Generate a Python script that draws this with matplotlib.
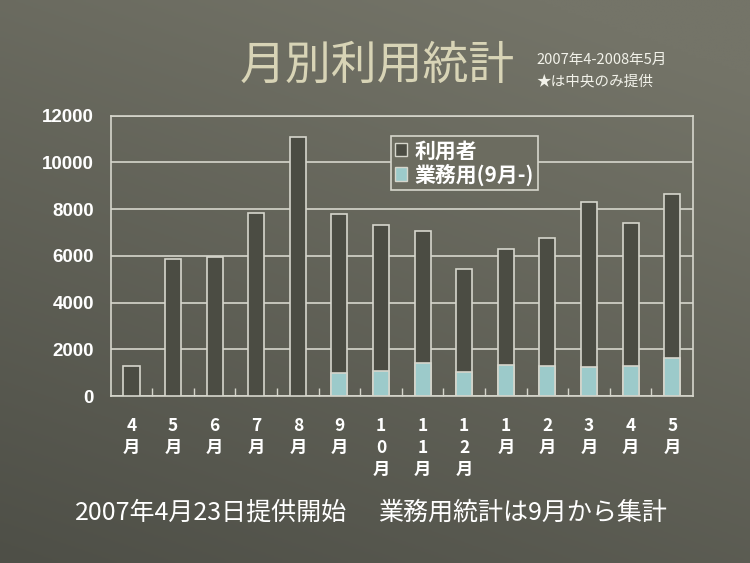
import numpy as np
import matplotlib
matplotlib.use("Agg")
import matplotlib.pyplot as plt
from matplotlib.patches import Patch

MONTH_LABELS = ["4\n月", "5\n月", "6\n月", "7\n月", "8\n月", "9\n月",
                "1\n0\n月", "1\n1\n月", "1\n2\n月",
                "1\n月", "2\n月", "3\n月", "4\n月", "5\n月"]
USERS = [1280, 5870, 5960, 7810, 11060, 7770, 7310, 7080, 5430,
         6300, 6760, 8320, 7420, 8640]
BUSINESS = [None, None, None, None, None, 1000, 1070, 1410, 1040,
            1340, 1300, 1250, 1300, 1610]
Y_TICKS = [0, 2000, 4000, 6000, 8000, 10000, 12000]

BG_TOP = "#747468"
BG_BOTTOM = "#4e4f47"
DARK_BAR = "#4b4c43"
CYAN_BAR = "#9ccaca"
LIGHT = "#d6d6cc"
CJK = ["Noto Sans CJK JP", "DejaVu Sans"]


def main():
    fig = plt.figure(figsize=(7.5, 5.63), dpi=100)

    # background gradient, lighter top right, darker bottom left
    bg = fig.add_axes([0, 0, 1, 1], zorder=-10)
    yy, xx = np.mgrid[0:1:200j, 0:1:200j]
    t = np.clip(0.75 * yy + 0.35 * xx, 0, 1)
    c0 = np.array(matplotlib.colors.to_rgb(BG_BOTTOM))
    c1 = np.array(matplotlib.colors.to_rgb(BG_TOP))
    img = c0[None, None, :] * (1 - t[..., None]) + c1[None, None, :] * t[..., None]
    bg.imshow(img, origin="lower", extent=[0, 1, 0, 1], aspect="auto")
    bg.axis("off")

    ax = fig.add_axes([0.1476, 0.2966, 0.7764, 0.4982])
    ax.set_facecolor("none")

    x = np.arange(len(USERS))
    width = 0.385
    ax.bar(x, USERS, width=width, color=DARK_BAR, edgecolor=LIGHT,
           linewidth=1.2, zorder=3)
    bx = [i for i, v in enumerate(BUSINESS) if v is not None]
    bv = [v for v in BUSINESS if v is not None]
    ax.bar(bx, bv, width=width, color=CYAN_BAR, edgecolor=LIGHT,
           linewidth=1.2, zorder=4)

    ax.set_xlim(-0.5, len(USERS) - 0.5)
    ax.set_ylim(0, 12000)
    ax.set_yticks(Y_TICKS)
    ax.set_yticklabels([str(v) for v in Y_TICKS], family="Liberation Sans",
                       fontweight="bold", fontsize=13.5, color="white")
    ax.yaxis.grid(True, color=LIGHT, linewidth=1.2, zorder=1)
    ax.set_axisbelow(True)
    ax.tick_params(axis="y", length=0, pad=12)

    ax.set_xticks(x)
    ax.set_xticklabels(MONTH_LABELS, family=CJK, fontweight="bold",
                       fontsize=12.5, color="white", linespacing=1.3,
                       va="top")
    ax.tick_params(axis="x", which="major", length=0, pad=15)
    ax.set_xticks(np.arange(0.5, len(USERS) - 1, 1.0), minor=True)
    ax.tick_params(axis="x", which="minor", direction="in", length=6,
                   color=LIGHT, width=1)

    for s in ax.spines.values():
        s.set_color(LIGHT)
        s.set_linewidth(1.2)

    handles = [Patch(facecolor=DARK_BAR, edgecolor=LIGHT, label="利用者"),
               Patch(facecolor=CYAN_BAR, edgecolor=LIGHT, label="業務用(9月-)")]
    leg = ax.legend(handles=handles, loc="upper left",
                    bbox_to_anchor=(0.481, 0.927), borderaxespad=0,
                    prop={"family": CJK, "weight": "bold", "size": 15},
                    labelcolor="white", fancybox=False, framealpha=1,
                    facecolor="#6c6c60", edgecolor=LIGHT,
                    handlelength=0.6, handleheight=0.6, handletextpad=0.35,
                    borderpad=0.2, labelspacing=0.1)
    leg.set_zorder(10)
    leg.get_frame().set_linewidth(1.2)

    fig.text(0.503, 0.8845, "月別利用統計", family=CJK, fontsize=33,
             color="#d8d4b6", ha="center", va="center")
    fig.text(0.715, 0.893, "2007年4-2008年5月", family=CJK, fontsize=10.5,
             color="#f2f2ea", ha="left", va="center")
    fig.text(0.715, 0.855, "★は中央のみ提供", family=CJK, fontsize=10.5,
             color="#f2f2ea", ha="left", va="center")

    fig.text(0.1, 0.089, "2007年4月23日提供開始", family=CJK, fontsize=18,
             color="white", ha="left", va="center")
    fig.text(0.889, 0.089, "業務用統計は9月から集計", family=CJK, fontsize=18,
             color="white", ha="right", va="center")

    fig.savefig("out.png", dpi=100)
    plt.close(fig)


if __name__ == "__main__":
    main()
